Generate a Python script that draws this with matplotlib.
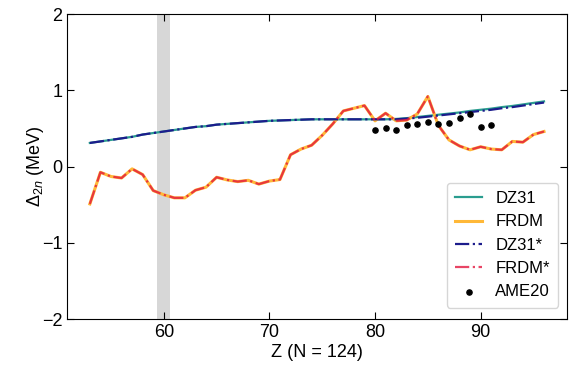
import matplotlib.pyplot as plt
import numpy as np

plt.rcParams['font.family'] = ['Liberation Sans', 'DejaVu Sans']
plt.rcParams['mathtext.fontset'] = 'custom'
plt.rcParams['mathtext.rm'] = 'Liberation Sans'
plt.rcParams['mathtext.it'] = 'Liberation Sans:italic'

# proton number, N = 124 isotones
z = np.arange(53, 97)

dz31 = [0.31, 0.33, 0.35, 0.37, 0.39, 0.42, 0.44, 0.46, 0.48, 0.50,
        0.52, 0.53, 0.55, 0.56, 0.57, 0.58, 0.59, 0.60, 0.605, 0.61,
        0.615, 0.62, 0.62, 0.62, 0.62, 0.62, 0.62, 0.62, 0.62, 0.625,
        0.635, 0.65, 0.665, 0.68, 0.695, 0.71, 0.73, 0.745, 0.76, 0.78,
        0.795, 0.815, 0.835, 0.855]
dz31_star = [0.31, 0.33, 0.35, 0.37, 0.39, 0.42, 0.44, 0.46, 0.48, 0.50,
             0.52, 0.53, 0.55, 0.56, 0.57, 0.58, 0.59, 0.60, 0.605, 0.61,
             0.615, 0.62, 0.62, 0.62, 0.62, 0.62, 0.62, 0.62, 0.62, 0.62,
             0.63, 0.64, 0.655, 0.67, 0.685, 0.70, 0.715, 0.73, 0.745, 0.765,
             0.78, 0.80, 0.82, 0.84]

frdm = [-0.49, -0.075, -0.13, -0.15, -0.03, -0.105, -0.315, -0.37, -0.41, -0.41,
        -0.31, -0.27, -0.14, -0.175, -0.197, -0.18, -0.23, -0.19, -0.17, 0.155,
        0.23, 0.28, 0.41, 0.56, 0.73, 0.765, 0.80, 0.60, 0.70, 0.60,
        0.61, 0.69, 0.92, 0.54, 0.35, 0.27, 0.22, 0.26, 0.23, 0.22,
        0.33, 0.32, 0.42, 0.46]
frdm_star = frdm

z_ame = np.arange(80, 92)
ame20 = [0.485, 0.51, 0.485, 0.547, 0.56, 0.58, 0.56, 0.573, 0.64, 0.69, 0.525, 0.54]

fig = plt.figure(figsize=(5.69, 3.71), dpi=100)
ax = fig.add_axes([0.118, 0.140, 0.878, 0.822])

ax.axvspan(59.4, 60.6, color='lightgray', alpha=0.9, lw=0, zorder=0)

ax.plot(z, dz31, color='#2a9d8f', lw=1.6, label='DZ31')
ax.plot(z, frdm, color='#ffb838', lw=2.2, label='FRDM')
ax.plot(z, dz31_star, color='#1c1c8c', lw=1.6, ls='-.', label='DZ31*')
ax.plot(z, frdm_star, color='#e3173e', lw=1.6, ls='-.', alpha=0.8, label='FRDM*')
ax.scatter(z_ame, ame20, color='black', s=14, zorder=5, label='AME20')

ax.set_ylim(-2, 2)
ax.set_yticks([-2, -1, 0, 1, 2])
ax.set_xticks([60, 70, 80, 90])
ax.tick_params(direction='in', top=True, right=True, labelsize=13, length=5)
ax.set_xlabel('Z (N = 124)', fontsize=13, labelpad=2)
ax.set_ylabel(r'$\Delta_{2n}$ (MeV)', fontsize=13, labelpad=-3)

ax.legend(loc='lower right', fontsize=12, handlelength=1.6, labelspacing=0.5,
          borderpad=0.5, framealpha=0.8, bbox_to_anchor=(1.0, 0.01))

plt.savefig('out.png', dpi=100)
